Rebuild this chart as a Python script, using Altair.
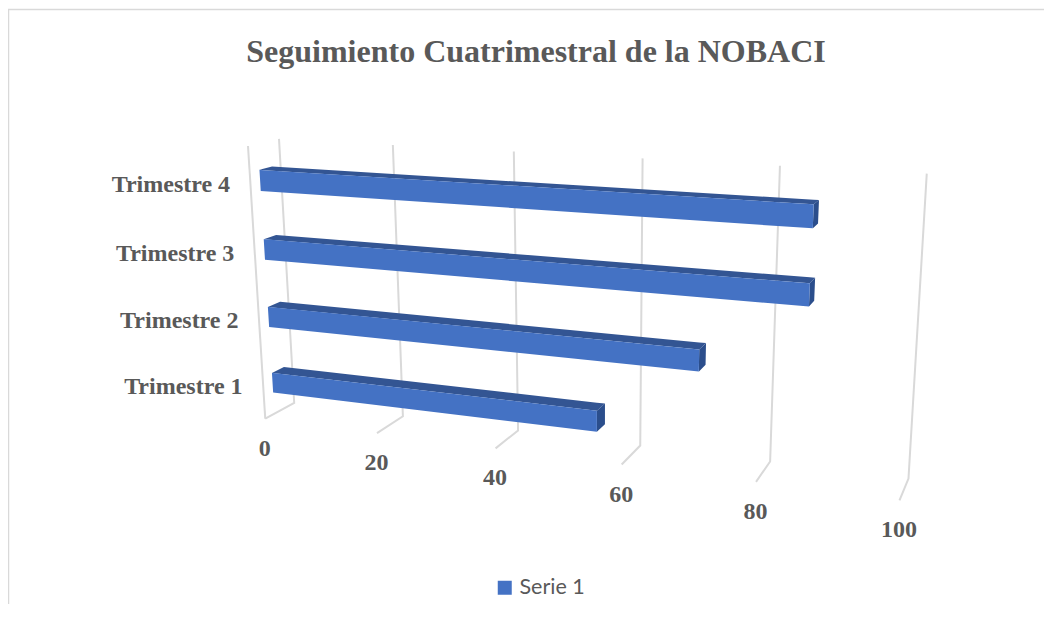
import altair as alt
import numpy as np
import pandas as pd

# ---- chart values ----
categories = ["Trimestre 1", "Trimestre 2", "Trimestre 3", "Trimestre 4"]
values = [55.2, 70.6, 86, 86.1]
ticks = [0, 20, 40, 60, 80, 100]
series_name = "Serie 1"
title_text = "Seguimiento Cuatrimestral de la NOBACI"

# ---- camera calibration of the 3-D box: (value, level, depth) -> pixel ----
floor_front = [(265, 418), (377, 433), (496, 448), (622, 465), (756, 482), (899, 501)]
floor_back = [(294, 403), (403, 417), (518, 430), (640, 445), (771, 462), (908, 478)]
wall_top = [(279, 139), (393, 145), (514, 152), (642, 158), (780, 166), (927, 173)]
side_top = (248, 146)

rows, rhs = [], []
def add(X, Y, Z, u, v):
    X = X / 100
    rows.append([X, Y, Z, 1, 0, 0, 0, 0, -u * X, -u * Y, -u * Z]); rhs.append(u)
    rows.append([0, 0, 0, 0, X, Y, Z, 1, -v * X, -v * Y, -v * Z]); rhs.append(v)
for t, a, b, c in zip(ticks, floor_front, floor_back, wall_top):
    add(t, 0, 0, *a); add(t, 0, 1, *b); add(t, 4, 1, *c)
add(0, 4, 0, *side_top)
sol = np.linalg.lstsq(np.array(rows, float), np.array(rhs, float), rcond=None)[0]
P = np.append(sol, 1).reshape(3, 4)

def project(v, level, depth):
    p = P @ np.array([v / 100, level, depth, 1.0])
    return float(p[0] / p[2]), float(p[1] / p[2])

# bar box inside the 3-D space
D0, D1 = 0.31, 0.72
BAR_LOW, BAR_THICK = -0.02, 0.30   # relative to the bottom + 0.5 of each category

def polygon_rows(points, key):
    xs = sorted({p[0] for p in points})
    out = []
    n = len(points)
    for x in xs:
        ys = []
        for i in range(n):
            a, b = points[i], points[(i + 1) % n]
            lo, hi = min(a[0], b[0]), max(a[0], b[0])
            if lo <= x <= hi:
                if a[0] == b[0]:
                    ys += [a[1], b[1]]
                else:
                    ys.append(a[1] + (b[1] - a[1]) * (x - a[0]) / (b[0] - a[0]))
        out.append({"px": x, "py": min(ys), "py2": max(ys), "face": key})
    return out

front, top, side, cat_labels = [], [], [], []
for k, (cat, val) in enumerate(zip(categories, values)):
    lo = k + 0.5 + BAR_LOW - 0.15
    hi = lo + BAR_THICK
    front += polygon_rows([project(0, hi, D0), project(val, hi, D0), project(val, lo, D0), project(0, lo, D0)], cat)
    top += polygon_rows([project(0, hi, D0), project(0, hi, D1), project(val, hi, D1), project(val, hi, D0)], cat)
    side += polygon_rows([project(val, hi, D0), project(val, hi, D1), project(val, lo, D1), project(val, lo, D0)], cat)
    lx, ly = project(0, (lo + hi) / 2, D0)
    cat_labels.append({"px": lx, "py": ly, "label": cat})

front_df = pd.DataFrame(front); front_df["serie"] = series_name
top_df = pd.DataFrame(top)
side_df = pd.DataFrame(side)
cat_df = pd.DataFrame(cat_labels)

grid = []
for t in ticks:
    for o, (lv, dp) in enumerate([(4, 1), (0, 1), (0, 0)]):
        x, y = project(t, lv, dp)
        grid.append({"px": x, "py": y, "tick": str(t), "o": o})
for o, (lv, dp) in enumerate([(4, 0), (0, 0)]):
    x, y = project(0, lv, dp)
    grid.append({"px": x, "py": y, "tick": "side", "o": o})
grid_df = pd.DataFrame(grid)

tick_df = pd.DataFrame([
    {"px": project(t, 0, 0)[0], "py": project(t, 0, 0)[1], "label": str(t)} for t in ticks
])

# ---- scales map the projected picture plane one to one ----
W, H = 1036, 596
xs = alt.Scale(domain=[8, 8 + W], range=[0, W], nice=False, zero=False)
ys = alt.Scale(domain=[8 + H, 8], range=[H, 0], nice=False, zero=False)
X = alt.X("px:Q", scale=xs, axis=None)
Y = alt.Y("py:Q", scale=ys, axis=None)
Y2 = alt.Y2("py2:Q")

frame_df = pd.DataFrame([{"a": 0}])
frame_h = alt.Chart(frame_df).mark_rule(color="#d9d9d9", strokeWidth=1.5).encode(
    x=alt.value(0), x2=alt.value(W), y=alt.value(1.5))
frame_v = alt.Chart(frame_df).mark_rule(color="#d9d9d9", strokeWidth=1.5).encode(
    x=alt.value(0.5), y=alt.value(1), y2=alt.value(H))

grid_layer = alt.Chart(grid_df).mark_line(color="#d9d9d9", strokeWidth=2).encode(
    x=X, y=Y, detail="tick:N", order="o:Q")

front_layer = alt.Chart(front_df).mark_area(opacity=1).encode(
    x=X, y=Y, y2=Y2, detail="face:N",
    color=alt.Color("serie:N",
                    scale=alt.Scale(domain=[series_name], range=["#4472C4"]),
                    legend=alt.Legend(title=None, orient="none", legendX=486, legendY=569,
                                      symbolType="square", symbolSize=196, symbolStrokeWidth=0,
                                      labelFont="Lato", labelFontSize=21.5, labelColor="#595959",
                                      labelOffset=4, padding=0)))
top_layer = alt.Chart(top_df).mark_area(color="#335593", opacity=1).encode(
    x=X, y=Y, y2=Y2, detail="face:N")
side_layer = alt.Chart(side_df).mark_area(color="#2B4E8C", opacity=1).encode(
    x=X, y=Y, y2=Y2, detail="face:N")

cat_text = alt.Chart(cat_df).mark_text(
    font="Liberation Serif", fontWeight="bold", fontSize=24, color="#595959",
    align="right", baseline="middle", dx=-30, dy=4.5).encode(x=X, y=Y, text="label:N")
tick_text = alt.Chart(tick_df).mark_text(
    font="Liberation Serif", fontWeight="bold", fontSize=24, color="#595959",
    align="center", baseline="middle", dx=-0.5, dy=30).encode(x=X, y=Y, text="label:N")

chart = alt.layer(frame_h, frame_v, grid_layer, top_layer, side_layer, front_layer, cat_text, tick_text).properties(
    width=W, height=H, padding=0,
    autosize=alt.AutoSizeParams(type="none"),
    background="white",
    title=alt.TitleParams(title_text, font="Liberation Serif", fontWeight="bold", fontSize=32,
                          color="#595959", anchor="middle", offset=-61, dx=10),
).configure_view(stroke=None)

chart.save("out.html", embed_options={"renderer": "svg", "actions": False})
